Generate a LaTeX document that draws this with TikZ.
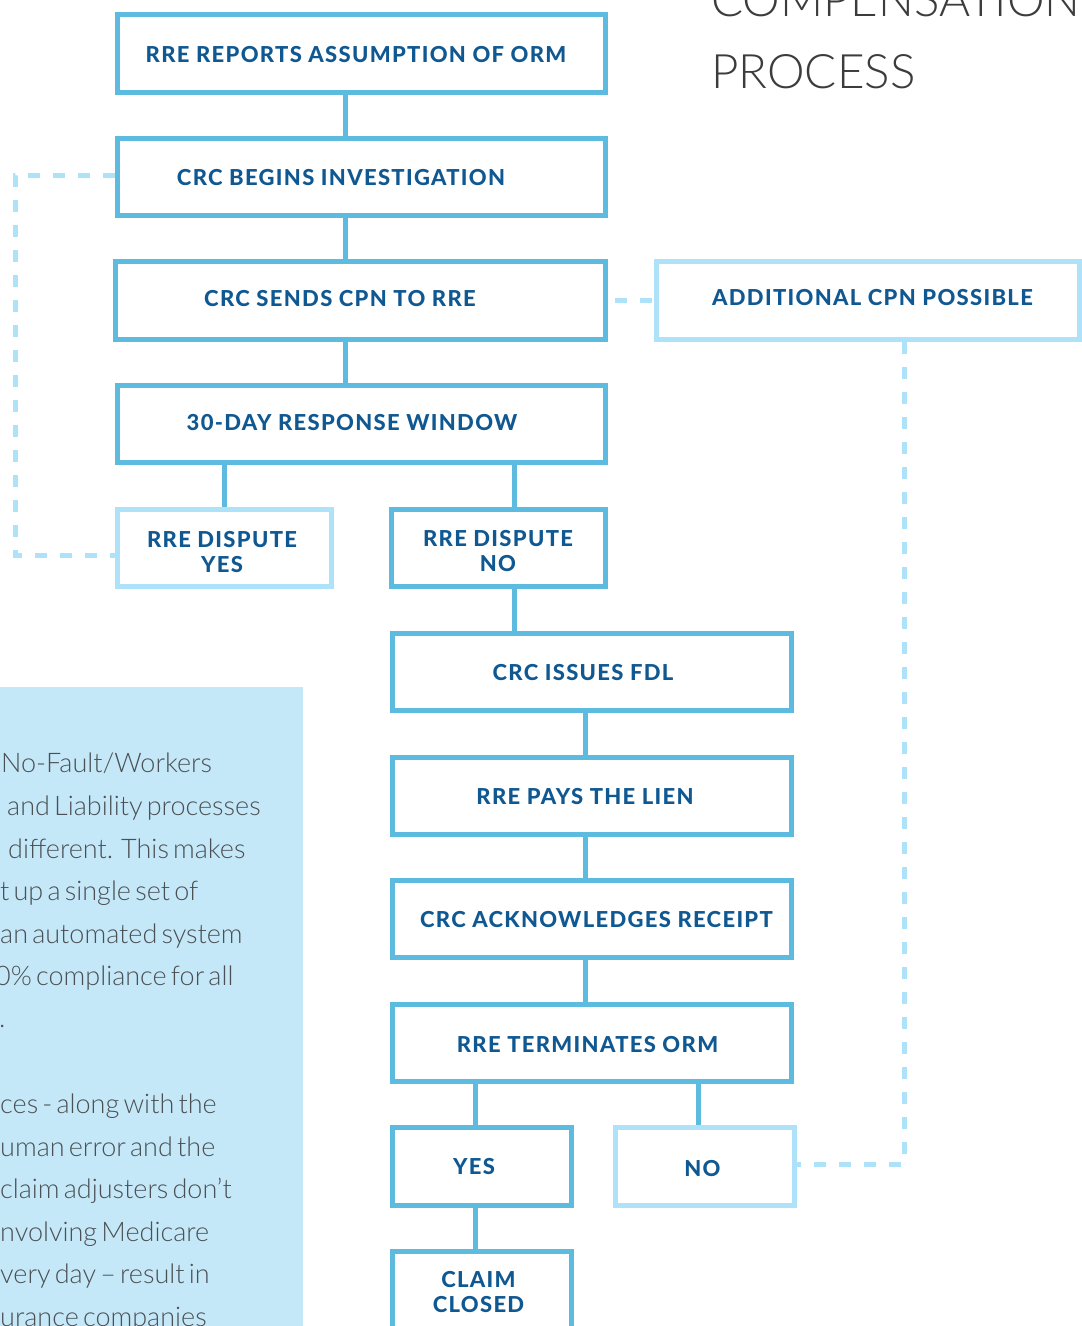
\documentclass[tikz,border=0pt]{standalone}
\usepackage{fontspec}
\setmainfont{Lato}
\newfontfamily\latolight{Lato Light}
\newfontfamily\titlefont{Lato Light}
\newfontfamily\lblfont[LetterSpace=6]{Lato Heavy}
\newcommand\bodytextfont{\latolight\fontsize{27}{34}\selectfont\spaceskip=4.2pt plus 1pt minus 0.5pt\relax}
\definecolor{boxblue}{HTML}{5EBBE0}
\definecolor{lightblue}{HTML}{ADE2F8}
\definecolor{txtblue}{HTML}{105891}
\definecolor{panelblue}{HTML}{C5E8F8}
\definecolor{bodygray}{HTML}{4B5055}
\definecolor{titlegray}{HTML}{3C3C3C}
\begin{document}
\begin{tikzpicture}[x=1pt,y=-1pt,
  box/.style={draw=boxblue, line width=5pt, fill=white, inner sep=0pt},
  lbox/.style={box, draw=lightblue},
  lbl/.style={text=txtblue, font=\lblfont\fontsize{22}{25}\selectfont, align=center, inner sep=0pt},
  conn/.style={draw=boxblue, line width=5pt},
  dashline/.style={draw=lightblue, line width=5pt, dash pattern=on 12pt off 13pt},
  body/.style={anchor=base west, inner sep=0pt, text=bodygray, font=\bodytextfont},
  title/.style={anchor=base west, inner sep=0pt, text=titlegray,
    font=\titlefont\fontsize{47.5}{56}\selectfont}]
\useasboundingbox (0,0) rectangle (1082,1326);
\clip (0,0) rectangle (1082,1326);

% side panel
\fill[panelblue] (0,687) rectangle (303,1326);
\node[body] (t1) at (1,772) {No-Fault/Workers};
\node[body] (t2) at (7,815) {and Liability processes};
\node[body] (t3) at (8,858) {different.\hspace{8pt}This makes};
\node[body] (t4) at (0,900) {t up a single set of};
\node[body] (t5) at (0,943) {an automated system};
\node[body] (t6) at (-5,985) {0\% compliance for all};
\node[body] (t7) at (-1,1027) {.};
\node[body] (t8) at (0,1113) {ces - along with the};
\node[body] (t9) at (0,1156) {uman error and the};
\node[body] (t10) at (0,1198) {claim adjusters don’t};
\node[body] (t11) at (0,1241) {nvolving Medicare};
\node[body] (t12) at (0,1283) {very day – result in};
\node[body] (t13) at (0,1326) {urance companies};

% title
\node[title] (ti1) at (711,16) {COMPENSATION};
\node[title] (ti2) at (711,88) {PROCESS};

% connector columns and dashed-route coordinates
\coordinate (cA) at (345,0);
\coordinate (cB) at (224,0);
\coordinate (cC) at (514,0);
\coordinate (cD) at (585,0);
\coordinate (cE) at (475,0);
\coordinate (cF) at (698,0);
\coordinate (lx) at (15,0);
\coordinate (rx) at (904,0);
\coordinate (ly1) at (0,175);
\coordinate (ly2) at (0,555);
\coordinate (ry) at (0,1164);

% boxes (label placed at the printed text centre)
\node[box, minimum width=488pt, minimum height=78pt,
  label={[lbl, xshift=-5.5pt, yshift=-1.5pt]center:RRE REPORTS ASSUMPTION OF ORM}] (b1) at (361.5,53.5) {};
\node[box, minimum width=488pt, minimum height=77pt,
  label={[lbl, xshift=-20.5pt, yshift=-1pt]center:CRC BEGINS INVESTIGATION}] (b2) at (361.5,177) {};
\node[box, minimum width=490pt, minimum height=78pt,
  label={[lbl, xshift=-20.5pt, yshift=1.5pt]center:CRC SENDS CPN TO RRE}] (b3) at (360.5,300.5) {};
\node[box, minimum width=488pt, minimum height=77pt,
  label={[lbl, xshift=-9.5pt, yshift=1pt]center:30-DAY RESPONSE WINDOW}] (b4) at (361.5,424) {};
\node[lbox, minimum width=214pt, minimum height=77pt,
  label={[lbl, xshift=-2.5pt, yshift=-4.5pt]center:RRE DISPUTE\\YES}] (b5) at (224.5,548) {};
\node[box, minimum width=214pt, minimum height=77pt,
  label={[lbl, xshift=-0.5pt, yshift=-3pt]center:RRE DISPUTE\\NO}] (b6) at (498.5,548) {};
\node[box, minimum width=399pt, minimum height=77pt,
  label={[lbl, xshift=-9pt, yshift=-1pt]center:CRC ISSUES FDL}] (b7) at (592,672) {};
\node[box, minimum width=399pt, minimum height=77pt,
  label={[lbl, xshift=-7pt, yshift=-1pt]center:RRE PAYS THE LIEN}] (b8) at (592,796) {};
\node[box, minimum width=399pt, minimum height=77pt,
  label={[lbl, xshift=4.5pt, yshift=-1pt]center:CRC ACKNOWLEDGES RECEIPT}] (b9) at (592,919) {};
\node[box, minimum width=399pt, minimum height=77pt,
  label={[lbl, xshift=-4.5pt, yshift=-2pt]center:RRE TERMINATES ORM}] (b10) at (592,1043) {};
\node[box, minimum width=179pt, minimum height=78pt,
  label={[lbl, xshift=-8pt, yshift=-0.5pt]center:YES}] (b11) at (482,1166.5) {};
\node[lbox, minimum width=179pt, minimum height=78pt,
  label={[lbl, xshift=-2.5pt, yshift=-2.5pt]center:NO}] (b12) at (705,1166.5) {};
\node[box, minimum width=179pt, minimum height=80pt,
  label={[lbl, xshift=-3.5pt, yshift=-1pt]center:CLAIM\\CLOSED}] (b13) at (482,1291.5) {};
\node[lbox, minimum width=423pt, minimum height=78pt,
  label={[lbl, xshift=4.5pt, yshift=2.5pt]center:ADDITIONAL CPN POSSIBLE}] (add) at (868,300.5) {};

% solid connectors
\draw[conn] (b1.south -| cA) -- (b2.north -| cA);
\draw[conn] (b2.south -| cA) -- (b3.north -| cA);
\draw[conn] (b3.south -| cA) -- (b4.north -| cA);
\draw[conn] (b4.south -| cB) -- (b5.north -| cB);
\draw[conn] (b4.south -| cC) -- (b6.north -| cC);
\draw[conn] (b6.south -| cC) -- (b7.north -| cC);
\draw[conn] (b7.south -| cD) -- (b8.north -| cD);
\draw[conn] (b8.south -| cD) -- (b9.north -| cD);
\draw[conn] (b9.south -| cD) -- (b10.north -| cD);
\draw[conn] (b10.south -| cE) -- (b11.north -| cE);
\draw[conn] (b10.south -| cF) -- (b12.north -| cF);
\draw[conn] (b11.south -| cE) -- (b13.north -| cE);

% dashed connectors
\draw[dashline] (b2.west |- ly1) -- (lx |- ly1) -- (lx |- ly2) -- (b5.west |- ly2);
\draw[dashline, dash phase=18pt] (b3.east) -- (add.west);
\draw[dashline] (add.south -| rx) -- (rx |- ry) -- (b12.east |- ry);
\end{tikzpicture}
\end{document}
